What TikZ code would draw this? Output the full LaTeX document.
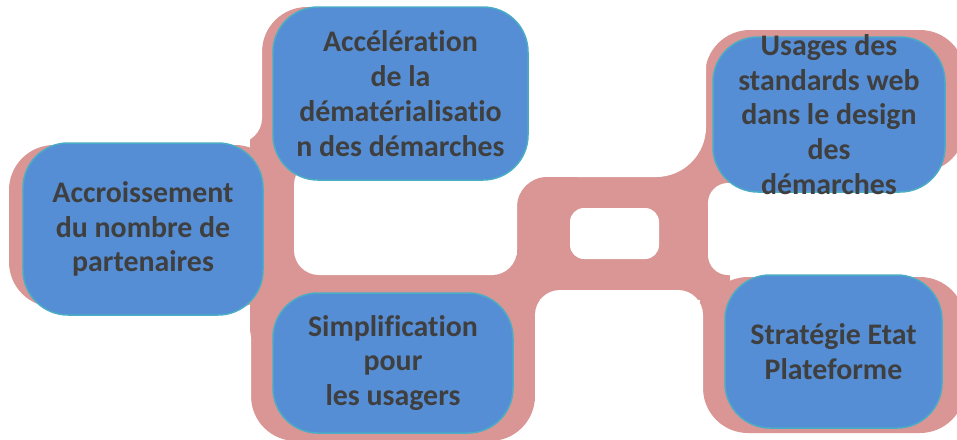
\documentclass[tikz,border=0pt]{standalone}
\usepackage{fontspec}
\setsansfont{Carlito}[Ligatures=NoCommon]
\usepackage{tikz}
\definecolor{pinkband}{HTML}{D99694}
\definecolor{bluebox}{HTML}{558ED5}
\definecolor{tealline}{HTML}{4BACC6}
\definecolor{greytext}{HTML}{3F3F3F}

\begin{document}
\begin{tikzpicture}[x=0.2mm,y=-0.2mm,font=\sffamily]
    \tikzstyle{goal}=[draw=tealline, line width=0.85pt, fill=bluebox, text=greytext, align=center, rounded corners=9mm, inner sep=0pt, font=\fontsize{17}{19.8}\selectfont\sffamily\bfseries]
    \tikzstyle{band}=[fill=pinkband]
    \tikzstyle{gap}=[fill=white]
    \useasboundingbox (0,0) rectangle (957,439);
    % pink shadows behind the boxes
    \fill[band,rounded corners=9mm] (9,145) rectangle (280,307);
    \fill[band,rounded corners=9mm] (262,7) rectangle (515,175);
    \fill[band,rounded corners=9mm] (251,290) rectangle (535,441);
    \fill[band,rounded corners=9mm] (705,30) rectangle (965,172);
    \fill[band,rounded corners=9mm] (703,277) rectangle (965,433);
    % hub and the bars joining everything
    \fill[band,rounded corners=6mm] (517,177) rectangle (720,300);
    \fill[band] (250,100) rectangle (300,340);
    \fill[band] (290,255) rectangle (540,300);
    \fill[band] (500,255) rectangle (540,400);
    \fill[band] (640,100) rectangle (730,300);
    \fill[band] (700,90) rectangle (730,390);
    % white cut-outs, their corners give the fillets
    \fill[gap,rounded corners=5mm] (-30,-30) rectangle (262,143);
    \fill[gap,rounded corners=5mm] (-30,313) rectangle (251,470);
    \fill[gap,rounded corners=5mm] (294,160) rectangle (517,275);
    \fill[gap,rounded corners=10mm] (528,-30) rectangle (706,177);
    \fill[gap,rounded corners=2.8mm] (570,208) rectangle (659,259);
    \fill[gap,rounded corners=5mm] (535,290) rectangle (703,470);
    \fill[gap,rounded corners=4mm] (708,183) rectangle (990,275);
    % boxes
    \node[goal,minimum width=48mm,minimum height=34.4mm] (partenaires) at (143,229) {Accroissement\\du nombre de\\partenaires};
    \node[goal,minimum width=51mm,minimum height=34.6mm] (acceleration) at (400.5,93.5) {Accélération\\de la\\dématérialisatio\\n des démarches};
    \node[goal,minimum width=48mm,minimum height=28mm] (simplification) at (393,363) {Simplification\\pour\\les usagers};
    \node[goal,minimum width=46.4mm,minimum height=31mm,inner ysep=-2.5mm] (usages) at (829,114.5) {Usages des\\standards web\\dans le design\\des\\démarches};
    \node[goal,minimum width=43.4mm,minimum height=30.6mm] (strategie) at (833.5,351.5) {Stratégie Etat\\Plateforme};
\end{tikzpicture}
\end{document}
